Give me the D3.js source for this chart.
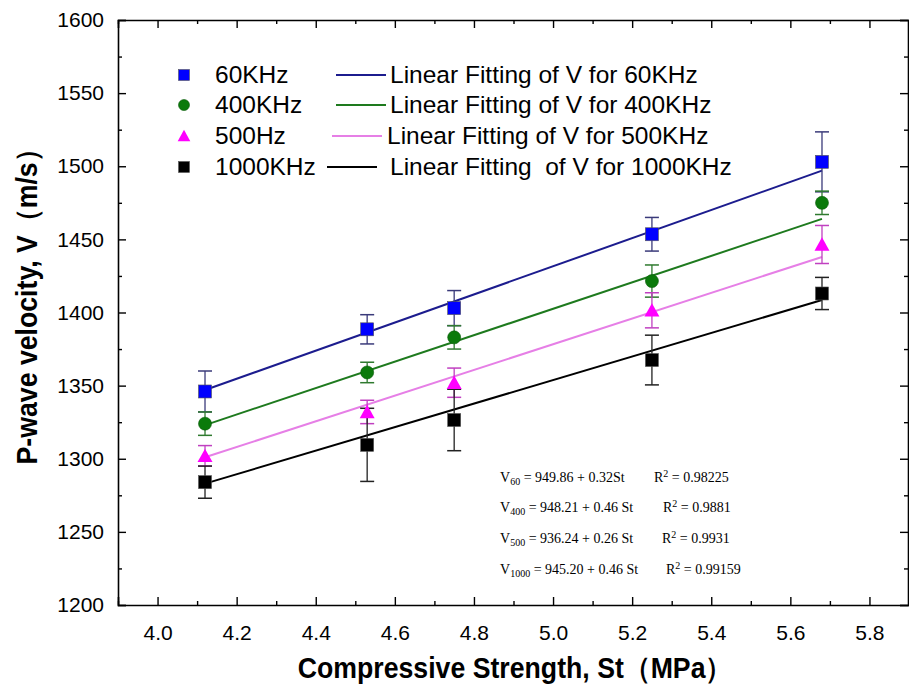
<!DOCTYPE html>
<html><head><meta charset="utf-8">
<script src="https://cdn.jsdelivr.net/npm/d3@7"></script>
<style>
body{margin:0;background:#fff;}
svg{display:block;}
</style></head>
<body>
<svg id="chart" width="909" height="689"></svg>
<script>
// ---- data ----
const strength = [4.12, 4.53, 4.75, 5.25, 5.68];
const v60   = [1346, 1388.5, 1403, 1453.5, 1503];
const v400  = [1324, 1359, 1383, 1421.5, 1475];
const v500  = [1302, 1332, 1352, 1401.5, 1446.5];
const v1000 = [1284, 1309.5, 1326.5, 1367.5, 1413];
const err60   = [14, 10, 12, 11.5, 20.5];
const err400  = [8, 7, 8, 11, 8];
const err500  = [7, 8, 10, 12, 13];
const err1000 = [11, 25, 21, 17, 11];
// fitted line end values (at first and last strength)
const fit60   = [1347, 1497];
const fit400  = [1323, 1464];
const fit500  = [1301, 1438];
const fit1000 = [1283, 1408.5];
const seriesNames = ["60KHz", "400KHz", "500Hz", "1000KHz"];
const fitNames = ["Linear Fitting of V for 60KHz", "Linear Fitting of V for 400KHz",
                  "Linear Fitting of V for 500KHz", "Linear Fitting  of V for 1000KHz"];
const xTicks = [4.0, 4.2, 4.4, 4.6, 4.8, 5.0, 5.2, 5.4, 5.6, 5.8];
const xMinor = [3.9, 4.1, 4.3, 4.5, 4.7, 4.9, 5.1, 5.3, 5.5, 5.7, 5.9];
const yTicks = [1200, 1250, 1300, 1350, 1400, 1450, 1500, 1550, 1600];
const yMinor = [1225, 1275, 1325, 1375, 1425, 1475, 1525, 1575];
const equations = [
  {v:"60", rhs:" = 949.86 + 0.32St", r:"0.98225"},
  {v:"400", rhs:" = 948.21 + 0.46 St", r:"0.9881"},
  {v:"500", rhs:" = 936.24 + 0.26 St", r:"0.9931"},
  {v:"1000", rhs:" = 945.20 + 0.46 St", r:"0.99159"}
];

const series = [
  {name:seriesNames[0], vals:v60, err:err60, fit:fit60, mark:"square", fill:"#0000ff", bar:"#3a3a7a", line:"#1c1c8e"},
  {name:seriesNames[1], vals:v400, err:err400, fit:fit400, mark:"circle", fill:"#0b7a0b", bar:"#2f7a2f", line:"#1e7a1e"},
  {name:seriesNames[2], vals:v500, err:err500, fit:fit500, mark:"triangle", fill:"#ff00ff", bar:"#c040c0", line:"#e67fe6"},
  {name:seriesNames[3], vals:v1000, err:err1000, fit:fit1000, mark:"square", fill:"#000000", bar:"#222222", line:"#000000"}
];

const svg = d3.select("#chart");
const L = 118, R = 909, T = 20, B = 605;
const x = d3.scaleLinear().domain([3.9, 5.9]).range([L, R]);
const y = d3.scaleLinear().domain([1200, 1600]).range([B, T]);

const tickFont = "'Liberation Sans', Arial, sans-serif";

function styleAxis(g){
  g.select(".domain").attr("stroke","#000").attr("stroke-width",1.6);
  g.selectAll(".tick line").attr("stroke","#000").attr("stroke-width",1.4);
}
// bottom
svg.append("g").attr("transform",`translate(0,${B})`)
  .call(d3.axisBottom(x).tickValues(xTicks).tickSize(-8).tickPadding(20).tickFormat(d3.format(".1f")))
  .call(styleAxis)
  .call(g=>g.selectAll("text").attr("font-family",tickFont).attr("font-size",21).attr("fill","#000"));
svg.append("g").attr("transform",`translate(0,${B})`)
  .call(d3.axisBottom(x).tickValues(xMinor).tickSize(-4).tickFormat(""))
  .call(styleAxis).call(g=>g.select(".domain").remove());
// top
svg.append("g").attr("transform",`translate(0,${T})`)
  .call(d3.axisTop(x).tickValues(xTicks).tickSize(-8).tickFormat(""))
  .call(styleAxis);
svg.append("g").attr("transform",`translate(0,${T})`)
  .call(d3.axisTop(x).tickValues(xMinor).tickSize(-4).tickFormat(""))
  .call(styleAxis).call(g=>g.select(".domain").remove());
// left
svg.append("g").attr("transform",`translate(${L},0)`)
  .call(d3.axisLeft(y).tickValues(yTicks).tickSize(-8).tickPadding(14).tickFormat(d3.format("d")))
  .call(styleAxis)
  .call(g=>g.selectAll("text").attr("font-family",tickFont).attr("font-size",21).attr("fill","#000"));
svg.append("g").attr("transform",`translate(${L},0)`)
  .call(d3.axisLeft(y).tickValues(yMinor).tickSize(-4).tickFormat(""))
  .call(styleAxis).call(g=>g.select(".domain").remove());
// right
svg.append("g").attr("transform",`translate(${R-1},0)`)
  .call(d3.axisRight(y).tickValues(yTicks).tickSize(-8).tickFormat(""))
  .call(styleAxis);
svg.append("g").attr("transform",`translate(${R-1},0)`)
  .call(d3.axisRight(y).tickValues(yMinor).tickSize(-4).tickFormat(""))
  .call(styleAxis).call(g=>g.select(".domain").remove());

// axis titles
const titleFont = "'Liberation Sans',Arial,sans-serif";
svg.append("text").attr("transform","translate(515,678) scale(0.92,1)").attr("text-anchor","middle")
  .attr("font-family",titleFont).attr("font-weight","bold")
  .attr("font-size",29).attr("fill","#000").text("Compressive Strength, St（MPa）");
svg.append("text").attr("transform","translate(37,300) rotate(-90) scale(0.92,1)").attr("text-anchor","middle")
  .attr("font-family",titleFont).attr("font-weight","bold")
  .attr("font-size",29).attr("fill","#000").text("P-wave velocity, V（m/s）");

// fit lines
const plot = svg.append("g");
series.forEach(s=>{
  plot.append("line")
    .attr("x1",x(strength[0])).attr("y1",y(s.fit[0]))
    .attr("x2",x(strength[strength.length-1])).attr("y2",y(s.fit[1]))
    .attr("stroke",s.line).attr("stroke-width",2);
});
// error bars
series.forEach(s=>{
  const g = plot.append("g");
  strength.forEach((st,i)=>{
    const cx = x(st), y1 = y(s.vals[i]+s.err[i]), y2 = y(s.vals[i]-s.err[i]);
    g.append("line").attr("x1",cx).attr("x2",cx).attr("y1",y1).attr("y2",y2).attr("stroke",s.bar).attr("stroke-width",1.3);
    [y1,y2].forEach(yy=>g.append("line").attr("x1",cx-7).attr("x2",cx+7).attr("y1",yy).attr("y2",yy).attr("stroke",s.bar).attr("stroke-width",1.5));
  });
});
function drawMarker(g, type, cx, cy, fill, size){
  if(type==="square"){
    g.append("rect").attr("x",cx-size/2).attr("y",cy-size/2).attr("width",size).attr("height",size)
      .attr("fill",fill).attr("stroke","#555").attr("stroke-width",0.6);
  } else if(type==="circle"){
    g.append("circle").attr("cx",cx).attr("cy",cy).attr("r",size/2).attr("fill",fill).attr("stroke","#0a5a0a").attr("stroke-width",0.6);
  } else {
    const h = size*0.95, w = size*1.15;
    g.append("path").attr("d",`M${cx},${cy-h/2-1}L${cx+w/2},${cy+h/2}L${cx-w/2},${cy+h/2}Z`).attr("fill",fill);
  }
}
series.forEach(s=>{
  const g = plot.append("g");
  strength.forEach((st,i)=>drawMarker(g, s.mark, x(st), y(s.vals[i]), s.fill, 13));
});

// legend
const legRows = [75, 105, 136, 167];
const legFont = "'Liberation Sans', Arial, sans-serif";
series.forEach((s,i)=>{
  const g = svg.append("g");
  drawMarker(g, s.mark, 184, legRows[i], s.fill, 11);
  g.append("text").attr("x",215).attr("y",legRows[i]+8).attr("font-family",legFont).attr("font-size",24.5)
    .attr("fill","#000").text(s.name);
  const lx1 = i===3 ? 327 : (i===2 ? 332 : 336);
  g.append("line").attr("x1",lx1).attr("x2",lx1+50).attr("y1",legRows[i]).attr("y2",legRows[i])
    .attr("stroke",s.line).attr("stroke-width",2);
  g.append("text").attr("x",i===2?387:390).attr("y",legRows[i]+8).attr("font-family",legFont).attr("font-size",24.5)
    .attr("fill","#000").attr("xml:space","preserve").style("white-space","pre").text(fitNames[i]);
});

// equations
const eqRows = [482, 512, 543, 574];
const eqR = [654, 663, 662, 666];
const serif = "'Liberation Serif','Times New Roman',serif";
equations.forEach((e,i)=>{
  const t = svg.append("text").attr("x",500).attr("y",eqRows[i]).attr("font-family",serif).attr("font-size",14).attr("fill","#000");
  t.append("tspan").text("V");
  t.append("tspan").attr("font-size",10).attr("dy",3).text(e.v);
  t.append("tspan").attr("dy",-3).text(e.rhs);
  const r = svg.append("text").attr("x",eqR[i]).attr("y",eqRows[i]).attr("font-family",serif).attr("font-size",14).attr("fill","#000");
  r.append("tspan").text("R");
  r.append("tspan").attr("font-size",10).attr("dy",-5).text("2");
  r.append("tspan").attr("dy",5).text(" = " + e.r);
});
</script>
</body></html>
